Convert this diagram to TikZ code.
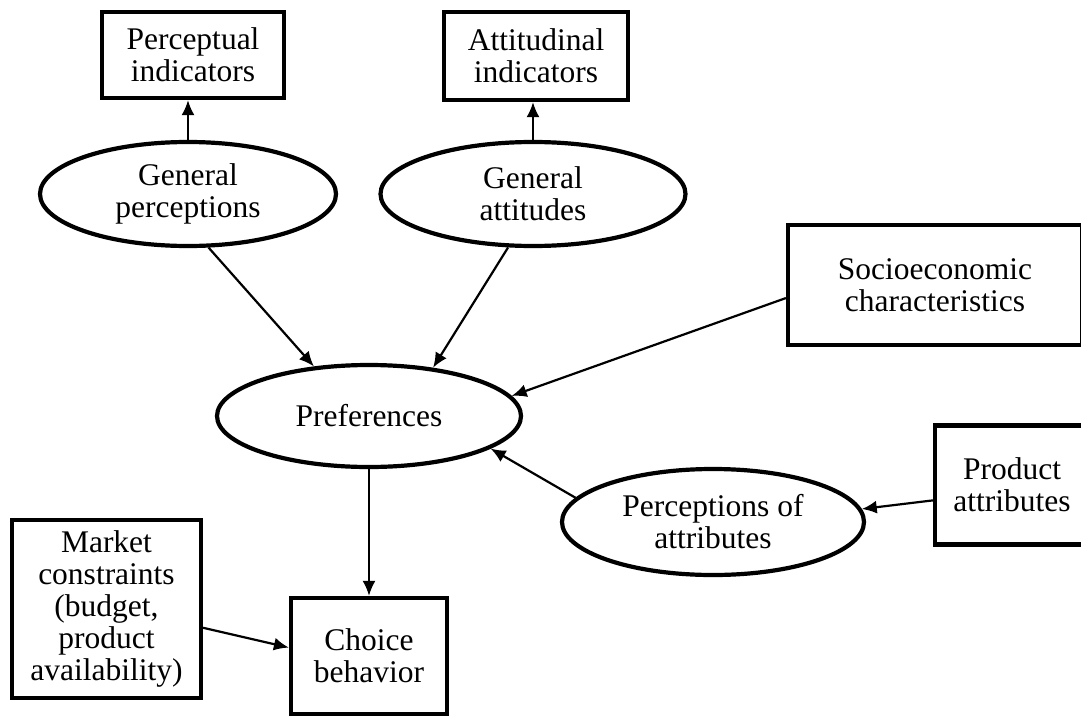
\documentclass[tikz,border=0pt]{standalone}
\usepackage{fontspec}
\setmainfont{Liberation Serif}
\usetikzlibrary{shapes.geometric,arrows.meta}

\begin{document}
\begin{tikzpicture}[x=1pt,y=-1pt,
  box/.style={draw,line width=4.2pt,rectangle,align=center,inner sep=0pt},
  oval/.style={draw,line width=4.2pt,ellipse,align=center,inner sep=0pt},
  arr/.style={-{Latex[length=15pt,width=13pt]},line width=2.2pt},
  every node/.style={font=\fontsize{31.5}{32}\selectfont}]
  \useasboundingbox (0,0) rectangle (1081,717);
  \clip (0,0) rectangle (1081,717);

  \node[box,minimum width=182pt,minimum height=86pt] (pind) at (193,55) {Perceptual\\indicators};
  \node[box,minimum width=184pt,minimum height=88pt] (aind) at (536,56) {Attitudinal\\indicators};

  \node[oval,minimum width=296pt,minimum height=104pt] (gperc) at (188,194) {General\\perceptions};
  \node[oval,minimum width=305pt,minimum height=104pt] (gatt) at (533,194) {General\\attitudes};

  \node[box,minimum width=294pt,minimum height=120pt] (soc) at (935,285) {Socioeconomic\\characteristics};

  \node[oval,minimum width=304pt,minimum height=102pt] (pref) at (369,416) {Preferences};

  \node[oval,minimum width=302pt,minimum height=106pt] (pattr) at (713,522) {Perceptions of\\attributes};
  \node[box,minimum width=154pt,minimum height=119pt] (prod) at (1012,485) {Product\\attributes};

  \node[box,minimum width=189pt,minimum height=178pt] (mkt) at (106.5,609) {Market\\constraints\\(budget,\\product\\availability)};
  \node[box,minimum width=156pt,minimum height=116pt] (choice) at (369,656) {Choice\\behavior};

  \draw[arr] (gperc.north) -- (gperc.north |- pind.south);
  \draw[arr] (gatt.north) -- (gatt.north |- aind.south);

  \draw[arr] (gperc.-69) -- (pref.138);
  \draw[arr] (gatt.-115) -- (pref.37);
  \draw[arr] (soc.185) -- (pref.8);
  \draw[arr] (pattr.170) -- (pref.-15);
  \draw[arr] (prod.191) -- (pattr.5);

  \draw[arr] (pref.south) -- (choice.north);
  \draw[arr] (mkt.-11) -- (choice.174);
\end{tikzpicture}
\end{document}
